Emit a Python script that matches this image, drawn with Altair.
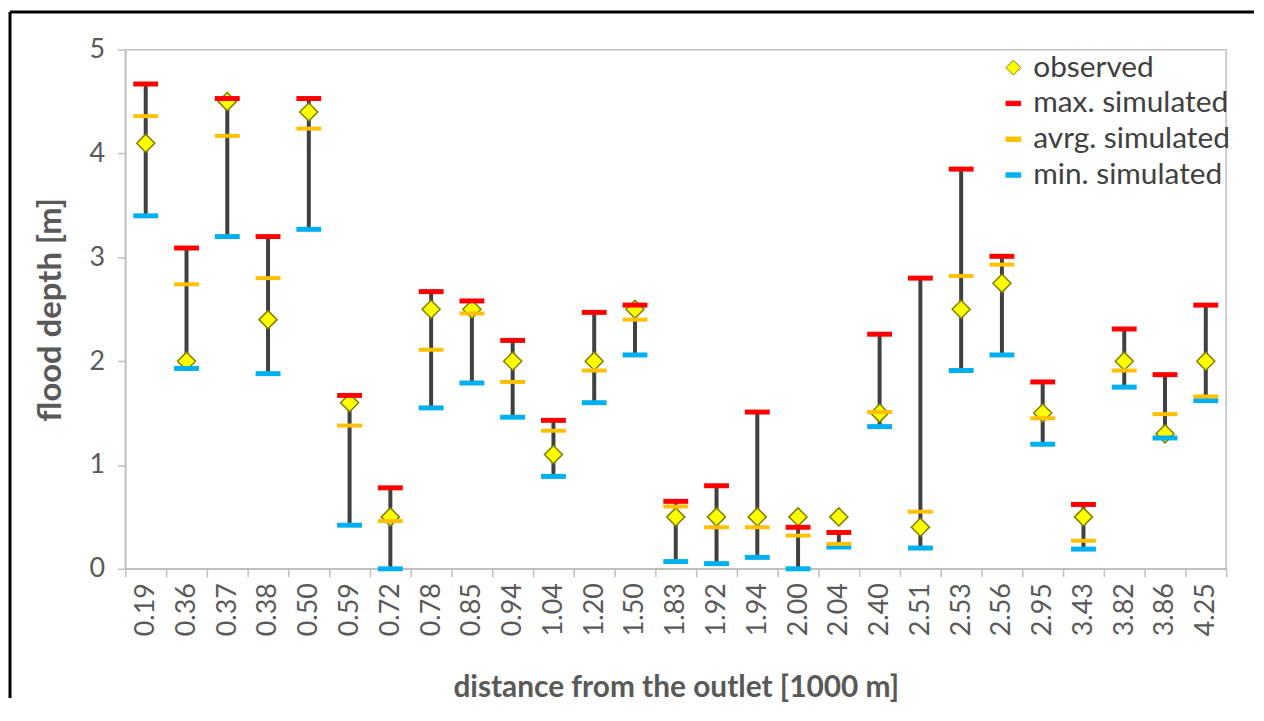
import altair as alt
import pandas as pd

# ---- data ----
distance = ["0.19", "0.36", "0.37", "0.38", "0.50", "0.59", "0.72", "0.78", "0.85",
            "0.94", "1.04", "1.20", "1.50", "1.83", "1.92", "1.94", "2.00", "2.04",
            "2.40", "2.51", "2.53", "2.56", "2.95", "3.43", "3.82", "3.86", "4.25"]
observed = [4.10, 2.00, 4.50, 2.40, 4.40, 1.60, 0.50, 2.50, 2.50,
            2.00, 1.10, 2.00, 2.50, 0.50, 0.50, 0.50, 0.50, 0.50,
            1.50, 0.40, 2.50, 2.75, 1.50, 0.50, 2.00, 1.30, 2.00]
max_sim = [4.67, 3.09, 4.53, 3.20, 4.53, 1.67, 0.78, 2.67, 2.58,
           2.20, 1.43, 2.47, 2.54, 0.65, 0.80, 1.51, 0.40, 0.35,
           2.26, 2.80, 3.85, 3.01, 1.80, 0.62, 2.31, 1.87, 2.54]
avg_sim = [4.36, 2.74, 4.17, 2.80, 4.24, 1.38, 0.46, 2.11, 2.46,
           1.80, 1.33, 1.91, 2.40, 0.60, 0.40, 0.40, 0.32, 0.24,
           1.51, 0.55, 2.82, 2.93, 1.45, 0.27, 1.91, 1.49, 1.66]
min_sim = [3.40, 1.93, 3.20, 1.88, 3.27, 0.42, 0.00, 1.55, 1.79,
           1.46, 0.89, 1.60, 2.06, 0.07, 0.05, 0.11, 0.00, 0.21,
           1.37, 0.20, 1.91, 2.06, 1.20, 0.19, 1.75, 1.26, 1.62]

series_names = ["observed", "max. simulated", "avrg. simulated", "min. simulated"]
fill_colors = ["#FFFF00", "#FF0000", "#FFC000", "#00B0F0"]
stroke_colors = ["#7F7F00", "#FF0000", "#FFC000", "#00B0F0"]
dash = "M-1,-0.3H1V0.3H-1Z"
shapes = ["diamond", dash, dash, dash]

y_ticks = [0, 1, 2, 3, 4, 5]

df = pd.DataFrame({
    "distance": distance,
    "observed": observed,
    "max": max_sim,
    "avg": avg_sim,
    "min": min_sim,
    "series": ["observed"] * len(distance),
})

FONT = "Lato"
TXT = "#595959"
W, H = 1107, 522

x_enc = alt.X(
    "distance:N", sort=distance,
    scale=alt.Scale(paddingInner=0, paddingOuter=0),
    axis=alt.Axis(
        title="distance from the outlet [1000 m]", labelAngle=-90, labelAlign="right",
        labelBaseline="middle", labelPadding=6, tickBand="extent", tickSize=8,
        labelFontSize=27, labelColor=TXT, titleFontSize=30, titleColor=TXT,
        titleFontWeight="bold", titlePadding=37, labelFont=FONT, titleFont=FONT,
    ),
)

y_axis = alt.Axis(
    title="flood depth [m]", values=y_ticks, tickSize=8, labelPadding=13,
    labelFontSize=27, labelColor=TXT, titleFontSize=33, titleColor=TXT,
    titleFontWeight="bold", titlePadding=22, labelFont=FONT, titleFont=FONT,
)
y_scale = alt.Scale(domain=[0, 5], nice=False)


def y_enc(field):
    return alt.Y(f"{field}:Q", scale=y_scale, axis=y_axis)


base = alt.Chart(df)

rng = base.mark_rule(color="#404040", strokeWidth=4).encode(
    x=x_enc, y=y_enc("min"), y2="max:Q"
)

legend = alt.Legend(
    title=None, orient="none", legendX=878, legendY=3,
    labelFont=FONT, labelFontSize=30, labelColor="#404040", labelLimit=0,
    symbolSize=220, symbolStrokeWidth=1, rowPadding=6, labelOffset=5,
)

obs = base.mark_point(filled=True, size=330, strokeWidth=1.5, opacity=1).encode(
    x=x_enc, y=y_enc("observed"),
    fill=alt.Fill("series:N", scale=alt.Scale(domain=series_names, range=fill_colors), legend=legend),
    stroke=alt.Stroke("series:N", scale=alt.Scale(domain=series_names, range=stroke_colors), legend=legend),
    shape=alt.Shape("series:N", scale=alt.Scale(domain=series_names, range=shapes), legend=legend),
)

t_min = base.mark_tick(color="#00B0F0", thickness=5, size=25, opacity=1).encode(x=x_enc, y=y_enc("min"))
t_avg = base.mark_tick(color="#FFC000", thickness=4, size=25, opacity=1).encode(x=x_enc, y=y_enc("avg"))
t_max = base.mark_tick(color="#FF0000", thickness=5, size=25, opacity=1).encode(x=x_enc, y=y_enc("max"))

one = alt.Chart(pd.DataFrame({"k": [0]}))
frame_left = one.mark_rule(color="black", strokeWidth=3).encode(
    x=alt.value(-116), y=alt.value(-38), y2=alt.value(H + 130)
)
frame_top = one.mark_rule(color="black", strokeWidth=3).encode(
    x=alt.value(-116), x2=alt.value(W + 28), y=alt.value(-38)
)

chart = alt.layer(rng, obs, t_min, t_avg, t_max, frame_left, frame_top).properties(
    width=W, height=H, padding=0
).configure_view(
    stroke="#BFBFBF", strokeWidth=1.5
).configure_axis(
    domainColor="#BFBFBF", tickColor="#BFBFBF", domainWidth=1.5, tickWidth=1.5, grid=False
)

chart.save("out.html", embed_options={"renderer": "svg", "actions": False})
